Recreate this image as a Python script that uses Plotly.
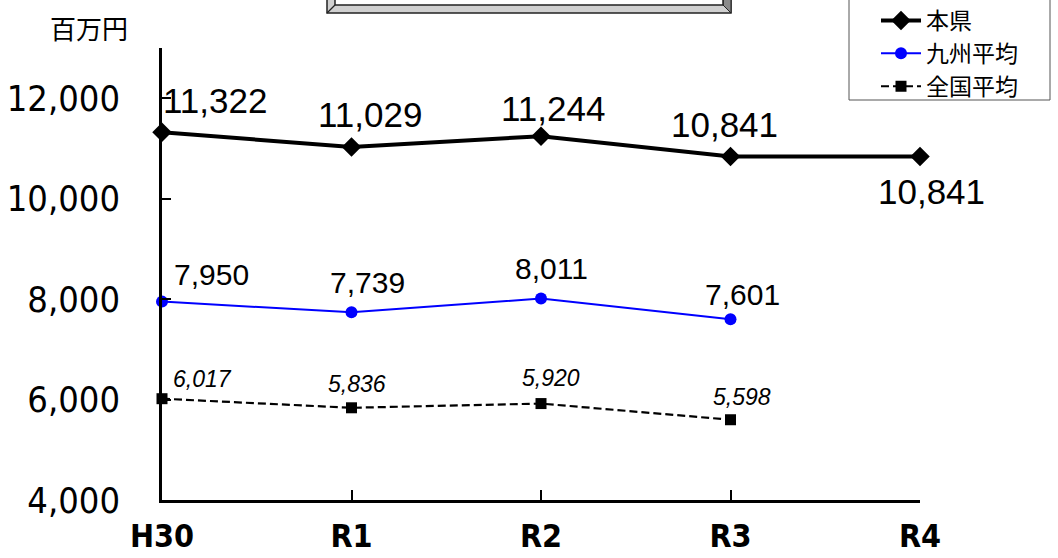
import plotly.graph_objects as go

# ---- data ----
years = ["H30", "R1", "R2", "R3", "R4"]
honken = [11322, 11029, 11244, 10841, 10841]
kyushu = [7950, 7739, 8011, 7601]
zenkoku = [6017, 5836, 5920, 5598]
y_ticks = [4000, 6000, 8000, 10000, 12000]
series_names = ["本県", "九州平均", "全国平均"]
unit_label = "百万円"

# ---- layout geometry (pixels) ----
W, H = 1058, 558
L, R, T, B = 162, 920, 48, 500


def px(x):
    return (x - L) / (R - L)


def py(y):
    return (B - y) / (B - T)


NUM_FONT = "DejaVu Sans Condensed, Noto Sans CJK JP, sans-serif"
JP_FONT = "Noto Sans CJK JP, Noto Sans CJK SC, sans-serif"
LBL_FONT = "Liberation Sans, Arial, sans-serif"

fig = go.Figure()
fig.add_trace(go.Scatter(x=years, y=honken, name=series_names[0], mode="lines+markers",
                         line=dict(color="black", width=4),
                         marker=dict(symbol="diamond", size=15, color="black"),
                         cliponaxis=False))
fig.add_trace(go.Scatter(x=years[:len(kyushu)], y=kyushu, name=series_names[1], mode="lines+markers",
                         line=dict(color="#0000ff", width=2),
                         marker=dict(symbol="circle", size=12, color="#0000ff"),
                         cliponaxis=False))
fig.add_trace(go.Scatter(x=years[:len(zenkoku)], y=zenkoku, name=series_names[2], mode="lines+markers",
                         line=dict(color="black", width=2.2, dash="8px,4px"),
                         marker=dict(symbol="square", size=11, color="black"),
                         cliponaxis=False))

# label offsets (style/position only)
off_h = [(53, 32), (18, 32), (12, 28), (-6, 32), (11, -35)]
off_k = [(49, 27), (16, 30), (10, 30), (12, 25)]
off_z = [(40, 20), (5, 24), (10, 26), (11, 23)]

annotations = []
for vals, offs, size, color, italic in [
    (honken, off_h, 35, "black", False),
    (kyushu, off_k, 30, "black", False),
    (zenkoku, off_z, 23, "black", True),
]:
    for i, v in enumerate(vals):
        txt = f"{v:,}"
        if italic:
            txt = f"<i>{txt}</i>"
        annotations.append(dict(x=years[i], y=v, xref="x", yref="y", text=txt, showarrow=False,
                                xshift=offs[i][0], yshift=offs[i][1],
                                font=dict(family=LBL_FONT, size=size, color=color)))

annotations.append(dict(x=px(89), y=py(28), xref="paper", yref="paper", text=unit_label,
                        xanchor="center", yanchor="middle",
                        showarrow=False, font=dict(family=JP_FONT, size=26, color="black")))

shapes = [
    # title box remnant at top
    dict(type="rect", xref="paper", yref="paper", x0=px(327), x1=px(731), y0=py(13), y1=py(-10),
         fillcolor="#d0d0d0", line=dict(color="#222", width=1.5), layer="above"),
    dict(type="path", xref="paper", yref="paper",
         path=f"M{px(723)},{py(-10)} L{px(731)},{py(-10)} L{px(731)},{py(13)} L{px(723)},{py(5)} Z",
         fillcolor="#8a8a8a", line=dict(color="#222", width=1)),
    dict(type="rect", xref="paper", yref="paper", x0=px(335), x1=px(723), y0=py(5), y1=py(-10),
         fillcolor="white", line=dict(color="#222", width=1.5)),
    dict(type="line", xref="paper", yref="paper", x0=px(327), x1=px(335), y0=py(13), y1=py(5),
         line=dict(color="#222", width=1.2)),
    # legend box
    dict(type="rect", xref="paper", yref="paper", x0=px(849), x1=px(1050), y0=py(100), y1=py(-2),
         fillcolor="white", line=dict(color="#555", width=1), layer="below"),
]

fig.update_layout(
    width=W, height=H,
    margin=dict(l=L, r=W - R, t=T, b=H - B, pad=0, autoexpand=False),
    paper_bgcolor="white", plot_bgcolor="white",
    showlegend=True,
    legend=dict(x=px(876), y=py(-1), xanchor="left", yanchor="top",
                bgcolor="rgba(0,0,0,0)", borderwidth=0,
                font=dict(family=JP_FONT, size=23, color="black"),
                tracegroupgap=0, itemwidth=40),
    annotations=annotations,
    shapes=shapes,
    xaxis=dict(type="category", range=[0, 4], showgrid=False, zeroline=False,
               showline=True, linecolor="black", linewidth=2.5,
               ticks="inside", ticklen=10, tickwidth=2, tickcolor="black",
               tickfont=dict(family=NUM_FONT, size=32, color="black", weight="bold"),
               ticklabelstandoff=6),
    yaxis=dict(range=[4000, 13000], tickvals=y_ticks, tickformat=",", showgrid=False, zeroline=False,
               showline=True, linecolor="black", linewidth=2.5,
               ticks="inside", ticklen=9, tickwidth=2, tickcolor="black",
               tickfont=dict(family=NUM_FONT, size=36, color="black"),
               ticklabelstandoff=32),
)

for i, t in enumerate(fig.data):
    t.legendgroup = f"g{i}"

fig.write_html("out.html", config={"displayModeBar": False},
               post_script="document.body.style.margin='0';document.body.style.overflow='hidden';")
